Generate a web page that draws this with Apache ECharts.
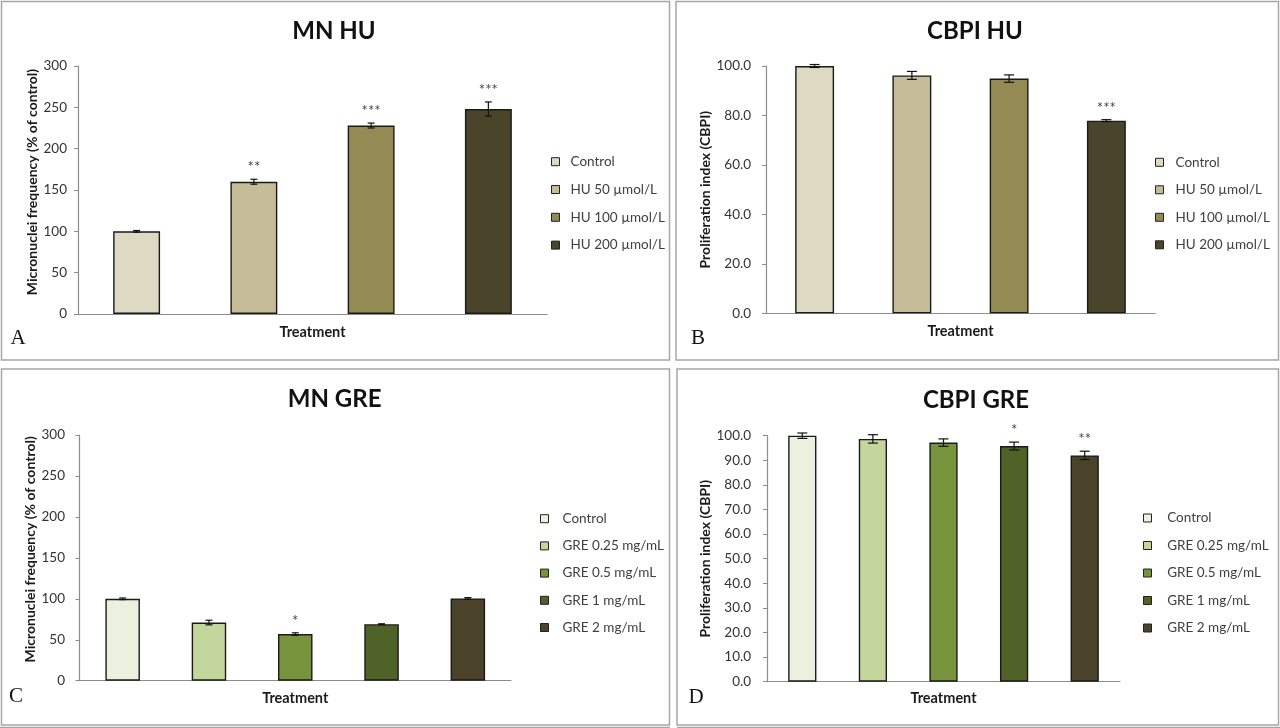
<!DOCTYPE html>
<html><head><meta charset="utf-8">
<script src="https://cdn.jsdelivr.net/npm/echarts@6/dist/echarts.min.js"></script>
<style>html,body{margin:0;padding:0;background:#fff}#c{width:1280px;height:728px}</style>
</head><body><div id="c"></div>
<script>
// ---- data ----
const huCategories = ['Control', 'HU 50 \u00b5mol/L', 'HU 100 \u00b5mol/L', 'HU 200 \u00b5mol/L'];
const greCategories = ['Control', 'GRE 0.25 mg/mL', 'GRE 0.5 mg/mL', 'GRE 1 mg/mL', 'GRE 2 mg/mL'];

const mnHuValues = [100, 160, 228, 248];
const mnHuErrors = [1, 3, 3, 8.5];
const mnHuStars = ['', '**', '***', '***'];

const cbpiHuValues = [100, 96.2, 94.9, 77.9];
const cbpiHuErrors = [0.6, 1.6, 1.5, 0.4];
const cbpiHuStars = ['', '', '', '***'];

const mnGreValues = [100, 71, 57, 69, 100.5];
const mnGreErrors = [1, 2.8, 1.5, 0.5, 1];
const mnGreStars = ['', '', '*', '', ''];

const cbpiGreValues = [100, 98.7, 97.2, 95.8, 92.0];
const cbpiGreErrors = [1.1, 1.7, 1.5, 1.6, 1.7];
const cbpiGreStars = ['', '', '', '*', '**'];

const mnTicks = [0, 50, 100, 150, 200, 250, 300];
const cbpiHuTicks = [0, 20, 40, 60, 80, 100];
const cbpiGreTicks = [0, 10, 20, 30, 40, 50, 60, 70, 80, 90, 100];

// ---- styles ----
const huColors = ['#DDD9C3', '#C4BD97', '#948A54', '#4A452A'];
const greColors = ['#EBF1DE', '#C3D69B', '#77933C', '#4F6228', '#4A4329'];
const FONT = 'Lato, "Open Sans", sans-serif';

const panels = [
  { title: 'MN HU', letter: 'A', cats: huCategories, values: mnHuValues, errors: mnHuErrors, stars: mnHuStars,
    colors: huColors, ticks: mnTicks, dec: 0, yName: 'Micronuclei frequency (% of control)',
    grid: { left: 78, right: 733, top: 66, bottom: 414 }, yNameGap: 35, yNamePad: [0, 0, 0, 16], labelMargin: 11, xNameGap: 10.5,
    legend: { left: 551, top: 154.7, itemGap: 13.8, pad: 6 }, cap: 3.5,
    titlePos: [334, 31.7], letterPos: [18, 338] },
  { title: 'CBPI HU', letter: 'B', cats: huCategories, values: cbpiHuValues, errors: cbpiHuErrors, stars: cbpiHuStars,
    colors: huColors, ticks: cbpiHuTicks, dec: 1, yName: 'Proliferation index (CBPI)',
    grid: { left: 766, right: 125, top: 66, bottom: 414.7 }, yNameGap: 54, yNamePad: [0, 0, 0, 0], labelMargin: 15, xNameGap: 11,
    legend: { left: 1155, top: 155.3, itemGap: 13.5, pad: 7 }, cap: 5,
    titlePos: [975, 31.7], letterPos: [698, 338] },
  { title: 'MN GRE', letter: 'C', cats: greCategories, values: mnGreValues, errors: mnGreErrors, stars: mnGreStars,
    colors: greColors, ticks: mnTicks, dec: 0, yName: 'Micronuclei frequency (% of control)',
    grid: { left: 79.5, right: 769, top: 435, bottom: 47.3 }, yNameGap: 40, yNamePad: [0, 0, 0, 17], labelMargin: 14.5, xNameGap: 10.4,
    legend: { left: 540, top: 511.7, itemGap: 13.2, pad: 9 }, cap: 3.5,
    titlePos: [334.6, 399], letterPos: [16, 696] },
  { title: 'CBPI GRE', letter: 'D', cats: greCategories, values: cbpiGreValues, errors: cbpiGreErrors, stars: cbpiGreStars,
    colors: greColors, ticks: cbpiGreTicks, dec: 1, yName: 'Proliferation index (CBPI)',
    grid: { left: 767, right: 160, top: 435.7, bottom: 46.3 }, yNameGap: 53.5, yNamePad: [0, 0, 0, 0], labelMargin: 16, xNameGap: 9.4,
    legend: { left: 1143, top: 511, itemGap: 13.5, pad: 10.7 }, cap: 5,
    titlePos: [976, 400.7], letterPos: [696, 697] }
];

const grid = [], xAxis = [], yAxis = [], series = [], legend = [], graphic = [];

panels.forEach((p, pi) => {
  grid.push(Object.assign({ containLabel: false }, p.grid));
  xAxis.push({
    type: 'category', gridIndex: pi, data: p.cats,
    name: 'Treatment', nameLocation: 'middle', nameGap: p.xNameGap,
    nameTextStyle: { fontFamily: FONT, fontWeight: 'bold', fontSize: 14.5, color: '#1a1a1a' },
    axisLine: { lineStyle: { color: '#8c8c8c', width: 1.2 } },
    axisTick: { show: false }, axisLabel: { show: false }, splitLine: { show: false }
  });
  const tmin = p.ticks[0], tmax = p.ticks[p.ticks.length - 1];
  yAxis.push({
    type: 'value', gridIndex: pi, min: tmin, max: tmax, interval: p.ticks[1] - p.ticks[0],
    name: p.yName, nameLocation: 'middle', nameGap: p.yNameGap, nameRotate: 90,
    nameTextStyle: { fontFamily: FONT, fontWeight: 'bold', fontSize: 14, color: '#1a1a1a', padding: p.yNamePad },
    axisLine: { show: true, lineStyle: { color: '#8c8c8c', width: 1.2 } },
    axisTick: { show: true, inside: false, length: 4, lineStyle: { color: '#8c8c8c' } },
    axisLabel: { margin: p.labelMargin, fontFamily: FONT, fontSize: 13.5, color: '#333',
      formatter: v => Number(v).toFixed(p.dec) },
    splitLine: { show: false }
  });
  p.cats.forEach((c, i) => {
    series.push({
      type: 'bar', name: c, xAxisIndex: pi, yAxisIndex: pi,
      barWidth: '40%', barGap: '-100%',
      data: p.cats.map((cc, j) => (j === i ? p.values[i] : '-')),
      itemStyle: { color: p.colors[i], borderColor: '#1a1a1a', borderWidth: 1.4 },
      emphasis: { disabled: true }, silent: true, animation: false
    });
  });
  series.push({
    type: 'custom', xAxisIndex: pi, yAxisIndex: pi, z: 10, animation: false, silent: true,
    data: p.values.map((v, i) => [i, v, p.errors[i]]),
    renderItem: (params, api) => {
      const i = api.value(0), v = api.value(1), e = api.value(2);
      const top = api.coord([i, v + e]);
      const bot = api.coord([i, v - e]);
      const x = top[0], w = p.cap;
      const ls = { stroke: '#111', lineWidth: 1.2 };
      const children = [
        { type: 'line', shape: { x1: x, y1: top[1], x2: x, y2: bot[1] }, style: ls },
        { type: 'line', shape: { x1: x - w, y1: top[1], x2: x + w, y2: top[1] }, style: ls },
        { type: 'line', shape: { x1: x - w, y1: bot[1], x2: x + w, y2: bot[1] }, style: ls }
      ];
      const star = p.stars[params.dataIndex];
      if (star) {
        children.push({ type: 'text', style: { text: star, x: x, y: top[1] - 12, textAlign: 'center',
          textVerticalAlign: 'middle', fontSize: 15, fontFamily: FONT, fill: '#444' } });
      }
      return { type: 'group', children };
    }
  });
  legend.push({
    orient: 'vertical', left: p.legend.left, top: p.legend.top, itemGap: p.legend.itemGap,
    itemWidth: 8, itemHeight: 8, icon: 'rect', selectedMode: false, padding: 0,
    textStyle: { fontFamily: FONT, fontSize: 13.5, color: '#404040', lineHeight: 14, padding: [0, 0, 0, p.legend.pad] },
    data: p.cats.map((c, i) => ({ name: c, itemStyle: { color: p.colors[i], borderColor: '#222', borderWidth: 1 } }))
  });
  graphic.push({ type: 'text', silent: true, style: { text: p.title, x: p.titlePos[0], y: p.titlePos[1],
    textAlign: 'center', textVerticalAlign: 'middle', fontFamily: FONT, fontWeight: 'bold', fontSize: 24, fill: '#111' } });
  graphic.push({ type: 'text', silent: true, style: { text: p.letter, x: p.letterPos[0], y: p.letterPos[1],
    textAlign: 'center', textVerticalAlign: 'middle', fontFamily: '"Liberation Serif", serif', fontSize: 21, fill: '#111' } });
});

// panel frames
const frameStyle = { stroke: '#a6a6a6', lineWidth: 1.5, fill: null };
[[1.5, 1.5, 668, 358.5], [676, 1.5, 602.5, 358.5], [1.5, 369, 668, 356], [677, 369, 601.5, 356]].forEach(r => {
  graphic.push({ type: 'rect', silent: true, shape: { x: r[0], y: r[1], width: r[2], height: r[3] }, style: frameStyle, z: -1 });
});
graphic.push({ type: 'line', silent: true, shape: { x1: 0, y1: 727.5, x2: 670, y2: 727.5 }, style: { stroke: '#a6a6a6', lineWidth: 1.5 } });
graphic.push({ type: 'line', silent: true, shape: { x1: 677, y1: 727.5, x2: 1280, y2: 727.5 }, style: { stroke: '#a6a6a6', lineWidth: 1.5 } });

const chart = echarts.init(document.getElementById('c'), null, { renderer: 'canvas' });
chart.setOption({ backgroundColor: '#fff', animation: false, grid, xAxis, yAxis, series, legend, graphic });
</script></body></html>
